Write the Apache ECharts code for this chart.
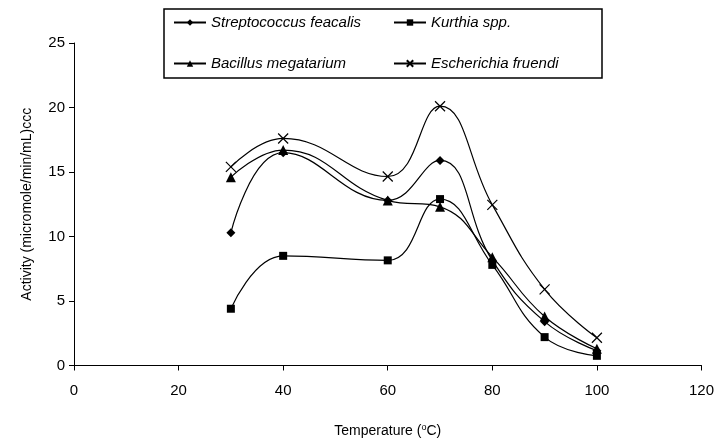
<!DOCTYPE html>
<html>
<head>
<meta charset="utf-8">
<script src="https://cdn.jsdelivr.net/npm/echarts@6/dist/echarts.min.js"></script>
<style>
  html, body { margin: 0; padding: 0; background: #fff; }
  #chart { width: 717px; height: 444px; }
</style>
</head>
<body>
<div id="chart"></div>
<script>
// temperatures (x) and activity values per organism
const temps = [30, 40, 60, 70, 80, 90, 100];
const strepto = [10.3, 16.5, 12.8, 15.9, 8.15, 3.4, 1.15];
const kurthia = [4.4, 8.5, 8.15, 12.9, 7.8, 2.2, 0.75];
const bacillus = [14.6, 16.7, 12.8, 12.3, 8.4, 3.8, 1.3];
const escher = [15.4, 17.6, 14.65, 20.1, 12.45, 5.9, 2.15];

const names = ['Streptococcus feacalis', 'Kurthia spp.', 'Bacillus megatarium', 'Escherichia fruendi'];

const FONT = '"Liberation Sans", Arial, sans-serif';

function pairs(vals) {
    return temps.map((t, i) => [t, vals[i]]);
}

function mkSeries(name, vals, symbol, size, extra) {
    return Object.assign({
        name: name,
        type: 'line',
        data: pairs(vals),
        smooth: 0.45,
        symbol: symbol,
        symbolSize: size,
        showSymbol: true,
        lineStyle: { color: '#000', width: 1.2 },
        itemStyle: { color: '#000' },
        emphasis: { disabled: true },
        z: 3
    }, extra || {});
}

const chart = echarts.init(document.getElementById('chart'), null, { renderer: 'canvas' });

// two vertical legends side by side, so the columns line up like the original box
const legendCommon = {
    orient: 'vertical',
    top: 15,
    padding: 0,
    itemWidth: 32,
    itemHeight: 8,
    itemGap: 26,
    selectedMode: false,
    textStyle: { fontFamily: FONT, fontSize: 15, fontStyle: 'italic', color: '#000' }
};

chart.setOption({
    animation: false,
    backgroundColor: '#fff',
    grid: { left: 74, right: 15, top: 43, bottom: 78.5 },
    legend: [
        Object.assign({ left: 173, data: [names[0], names[2]] }, legendCommon),
        Object.assign({ left: 393, data: [names[1], names[3]] }, legendCommon)
    ],
    graphic: [{
        type: 'rect',
        shape: { x: 164, y: 9, width: 438, height: 69 },
        style: { fill: 'none', stroke: '#000', lineWidth: 1.5 },
        z: 10
    }],
    xAxis: {
        type: 'value',
        min: 0, max: 120, interval: 20,
        name: '{a|Temperature (}{s|o}{a|C)}',
        nameLocation: 'middle',
        nameGap: 58,
        nameTextStyle: {
            rich: {
                a: { fontFamily: FONT, fontSize: 14, color: '#000' },
                s: { fontFamily: FONT, fontSize: 9, color: '#000', verticalAlign: 'top', padding: [0, 0, 6, 0] }
            }
        },
        axisLine: { show: true, onZero: false, lineStyle: { color: '#000', width: 1 } },
        axisTick: { show: true, inside: false, length: 5, lineStyle: { color: '#000' } },
        axisLabel: { margin: 18, fontFamily: FONT, fontSize: 15, color: '#000' },
        splitLine: { show: false }
    },
    yAxis: {
        type: 'value',
        min: 0, max: 25, interval: 5,
        name: 'Activity (micromole/min/mL)ccc',
        nameLocation: 'middle',
        nameGap: 40,
        nameTextStyle: { fontFamily: FONT, fontSize: 14, color: '#000' },
        axisLine: { show: true, lineStyle: { color: '#000', width: 1 } },
        axisTick: { show: true, inside: false, length: 5, lineStyle: { color: '#000' } },
        axisLabel: { margin: 9, fontFamily: FONT, fontSize: 15, color: '#000' },
        splitLine: { show: false }
    },
    series: [
        mkSeries(names[0], strepto, 'diamond', 9),
        mkSeries(names[1], kurthia, 'rect', 8),
        mkSeries(names[2], bacillus, 'triangle', 10),
        mkSeries(names[3], escher, 'path://M0,0L10,10M10,0L0,10', 10, {
            itemStyle: { color: 'none', borderColor: '#000', borderWidth: 1.2 }
        })
    ]
});
</script>
</body>
</html>
